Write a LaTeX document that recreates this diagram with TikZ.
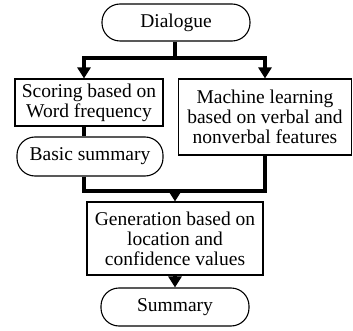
\documentclass[tikz,border=0pt]{standalone}
\usepackage{fontspec}
\setmainfont{Liberation Serif}
\usetikzlibrary{arrows.meta}
\begin{document}
\begin{tikzpicture}[x=1pt,y=-1pt,
  every node/.style={font=\fontsize{19.5}{20}\selectfont, align=center, inner sep=0pt},
  boxnode/.style={draw, line width=1.1pt, rectangle},
  termnode/.style={draw, line width=1.1pt, rectangle, rounded corners=18pt},
  conn/.style={line width=4pt, miter limit=10},
  arr/.style={conn, -{Triangle[width=13pt,length=11pt]}}]
\useasboundingbox (0,0) rectangle (353,331);
% nodes
\node[termnode, minimum width=148pt, minimum height=37pt] (dlg) at (176,22.5) {Dialogue};
\node[boxnode, minimum width=148pt, minimum height=47pt] (score) at (89,102.5) {Scoring based on\\Word frequency};
\node[termnode, minimum width=146pt, minimum height=39pt] (basic) at (90,156.5) {Basic summary};
\node[boxnode, minimum width=173pt, minimum height=76pt] (ml) at (265,117) {Machine learning\\based on verbal and\\nonverbal features};
\node[boxnode, minimum width=176pt, minimum height=73pt] (gen) at (175,238.5) {Generation based on\\location and\\confidence values};
\node[termnode, minimum width=148pt, minimum height=38pt] (sum) at (175,307) {Summary};
% junction points
\coordinate (split) at (175,58);
\coordinate (lt) at (84,58);
\coordinate (rt) at (265,58);
\coordinate (jl) at (84,191);
\coordinate (jc) at (175,191);
\coordinate (jr) at (265,191);
% connectors
\draw[conn] (dlg.south -| split) -- (split);
\draw[arr] (split) -- (lt) -- (lt |- score.north);
\draw[arr] (split) -- (rt) -- (rt |- ml.north);
\draw[conn] (lt |- score.south) -- (lt |- basic.north);
\draw[conn] (jl |- basic.south) -- (jl) -- (jr) -- (ml.south);
\draw[arr] (jc) -- (jc |- gen.north);
\draw[arr] (gen.south) -- (sum.north);
\end{tikzpicture}
\end{document}
